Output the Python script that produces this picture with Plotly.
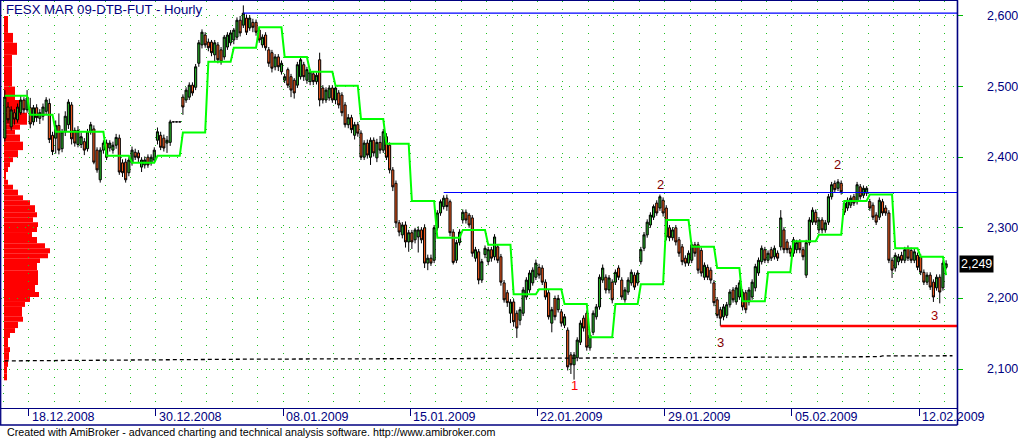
import plotly.graph_objects as go

# ---------------- data ----------------
open_prices = [
    2427,2471,2443,2463,2453,2463,2481,2467, 2470,2450,2470,2455,2458,2465,2476,2431,
    2427,2445,2412,2436,2446,2474,2438,2418, 2418,2422,2412,2436,2440,2410,2368,2410,
    2420,2413,2410,2417,2427,2392,2393,2378, 2392,2407,2406,2386,2389,2400,2392,2396,
    2424,2431,2427,2420,2421,2450,2450,2450, 2485,2481,2485,2502,2499,2533,2559,2573,
    2563,2563,2545,2559,2552,2542,2556,2562, 2566,2570,2594,2587,2597,2583,2591,2591,
    2580,2559,2573,2552,2548,2528,2542,2521, 2509,2524,2514,2509,2502,2514,2531,2509,
    2507,2518,2507,2538,2498,2481,2484,2498, 2481,2491,2488,2474,2446,2456,2431,2446,
    2434,2400,2420,2400,2424,2399,2421,2410, 2429,2417,2382,2363,2307,2290,2304,2280,
    2293,2283,2287,2297,2300,2250,2257,2254, 2300,2321,2330,2342,2337,2294,2254,2279,
    2311,2322,2318,2314,2257,2266,2226,2262, 2252,2269,2259,2273,2259,2222,2208,2179,
    2195,2179,2169,2179,2202,2212,2222,2230, 2244,2243,2223,2208,2165,2200,2184,2181,
    2162,2155,2120,2106,2116,2138,2172,2179, 2130,2152,2174,2188,2226,2230,2212,2223,
    2223,2243,2226,2198,2209,2222,2233,2222, 2252,2271,2290,2304,2315,2335,2328,2339,
    2328,2300,2286,2300,2283,2273,2257,2250, 2254,2276,2276,2268,2230,2244,2240,2222,
    2198,2184,2174,2176,2191,2212,2195,2202, 2209,2208,2195,2202,2215,2236,2252,2269,
    2254,2269,2259,2264,2273,2297,2280,2271, 2264,2269,2280,2269,2233,2279,2308,2322,
    2297,2311,2297,2308,2344,2363,2356,2363, 2335,2328,2332,2344,2337,2358,2346,2349,
    2337,2332,2318,2315,2337,2328,2321,2254, 2243,2252,2261,2254,2271,2268,2254,2261,
    2259,2237,2223,2233,2223,2215,2230,2215, 2244,
]
high_prices = [
    2495,2478,2472,2468,2476,2488,2485,2495, 2484,2474,2475,2468,2476,2485,2483,2436,
    2452,2462,2440,2465,2482,2478,2442,2444, 2435,2427,2440,2450,2445,2414,2414,2424,
    2425,2424,2422,2433,2432,2397,2398,2400, 2415,2412,2410,2400,2401,2404,2404,2414,
    2442,2436,2432,2430,2453,2450,2450,2450, 2489,2499,2506,2506,2532,2566,2581,2577,
    2568,2566,2566,2563,2556,2573,2577,2580, 2583,2598,2600,2615,2602,2601,2596,2595,
    2584,2574,2577,2556,2552,2546,2546,2537, 2518,2527,2518,2512,2535,2542,2535,2528,
    2525,2522,2520,2548,2502,2499,2502,2502, 2502,2495,2492,2478,2461,2460,2450,2450,
    2438,2424,2425,2428,2428,2426,2430,2440, 2434,2421,2386,2367,2311,2308,2309,2297,
    2297,2300,2302,2301,2305,2262,2262,2304, 2325,2340,2346,2347,2340,2298,2283,2298,
    2326,2326,2321,2318,2273,2270,2256,2275, 2273,2273,2291,2277,2263,2226,2212,2199,
    2199,2183,2188,2216,2230,2240,2244,2255, 2249,2247,2227,2212,2188,2204,2205,2185,
    2178,2159,2124,2124,2145,2169,2176,2183, 2152,2183,2192,2234,2248,2234,2233,2227,
    2241,2247,2230,2216,2230,2241,2237,2240, 2273,2294,2312,2322,2333,2339,2347,2343,
    2332,2304,2301,2304,2287,2277,2261,2268, 2280,2280,2280,2272,2251,2248,2244,2226,
    2202,2188,2192,2195,2213,2216,2219,2226, 2213,2212,2216,2227,2249,2258,2275,2273,
    2268,2273,2275,2268,2325,2301,2284,2275, 2287,2283,2284,2273,2283,2315,2329,2326,
    2315,2315,2311,2348,2365,2367,2369,2367, 2339,2343,2346,2348,2365,2362,2360,2359,
    2341,2336,2322,2343,2341,2332,2325,2258, 2265,2263,2266,2273,2275,2272,2270,2265,
    2263,2241,2237,2237,2227,2234,2234,2254, 2254,
]
low_prices = [
    2422,2448,2438,2446,2449,2460,2462,2463, 2441,2445,2450,2447,2452,2460,2420,2403,
    2405,2404,2407,2430,2440,2418,2415,2414, 2413,2403,2408,2432,2390,2378,2364,2405,
    2396,2408,2405,2412,2375,2372,2364,2373, 2388,2396,2393,2379,2384,2385,2388,2392,
    2418,2410,2408,2406,2416,2450,2450,2450, 2460,2477,2481,2487,2495,2528,2554,2555,
    2550,2543,2535,2533,2531,2538,2552,2558, 2560,2566,2571,2583,2573,2579,2577,2572,
    2562,2555,2551,2528,2520,2523,2522,2517, 2505,2498,2485,2483,2498,2510,2508,2504,
    2502,2502,2503,2472,2476,2477,2480,2477, 2475,2469,2458,2442,2441,2434,2425,2429,
    2396,2396,2398,2389,2401,2393,2405,2406, 2396,2377,2352,2300,2288,2285,2272,2266,
    2270,2278,2265,2278,2243,2240,2246,2250, 2296,2317,2326,2324,2288,2248,2250,2275,
    2306,2306,2300,2259,2252,2220,2222,2257, 2247,2252,2254,2250,2218,2194,2188,2165,
    2160,2144,2162,2175,2198,2208,2218,2226, 2228,2219,2198,2170,2152,2169,2180,2160,
    2158,2098,2093,2085,2111,2134,2153,2126, 2126,2148,2170,2184,2222,2207,2207,2193,
    2219,2226,2198,2194,2205,2218,2212,2218, 2248,2267,2286,2300,2311,2317,2324,2316,
    2282,2281,2282,2275,2259,2247,2245,2246, 2250,2259,2235,2231,2226,2226,2221,2189,
    2172,2161,2169,2172,2187,2194,2191,2198, 2183,2179,2190,2198,2210,2232,2248,2250,
    2250,2253,2255,2253,2268,2264,2264,2259, 2259,2264,2264,2254,2229,2275,2304,2304,
    2292,2292,2293,2304,2340,2350,2352,2347, 2318,2324,2328,2331,2333,2340,2342,2345,
    2324,2311,2304,2311,2317,2317,2250,2229, 2238,2247,2250,2250,2253,2250,2250,2240,
    2233,2219,2219,2212,2195,2211,2193,2211, 2241,
]
close_prices = [
    2485,2453,2467,2454,2471,2481,2467,2484, 2447,2470,2456,2463,2471,2481,2425,2408,
    2445,2410,2436,2458,2478,2426,2420,2438, 2429,2410,2436,2446,2393,2382,2410,2420,
    2400,2420,2417,2428,2379,2378,2368,2396, 2410,2400,2399,2396,2396,2389,2400,2410,
    2436,2414,2413,2424,2450,2450,2450,2450, 2471,2495,2502,2491,2528,2562,2577,2559,
    2555,2548,2562,2538,2535,2570,2573,2576, 2580,2594,2576,2604,2577,2597,2584,2577,
    2566,2570,2555,2533,2526,2542,2528,2533, 2514,2502,2495,2491,2531,2538,2514,2524,
    2521,2507,2516,2481,2481,2495,2498,2481, 2498,2474,2463,2446,2456,2439,2446,2434,
    2400,2420,2403,2424,2406,2421,2410,2436, 2400,2382,2358,2307,2294,2304,2280,2293,
    2280,2297,2297,2283,2250,2257,2250,2300, 2321,2337,2342,2330,2293,2251,2279,2294,
    2322,2311,2304,2264,2269,2226,2252,2271, 2269,2257,2287,2254,2223,2198,2194,2195,
    2167,2158,2184,2212,2226,2236,2240,2250, 2233,2223,2202,2174,2184,2174,2200,2165,
    2174,2103,2106,2120,2141,2165,2158,2131, 2148,2179,2188,2230,2243,2212,2229,2198,
    2237,2230,2202,2212,2226,2237,2216,2236, 2269,2290,2308,2318,2330,2321,2344,2321,
    2287,2286,2297,2280,2264,2252,2250,2264, 2276,2264,2240,2236,2247,2230,2226,2194,
    2176,2172,2188,2191,2209,2198,2215,2222, 2188,2184,2212,2223,2245,2254,2271,2254,
    2264,2257,2271,2257,2314,2269,2269,2264, 2283,2279,2269,2259,2279,2311,2325,2308,
    2311,2297,2307,2344,2361,2354,2365,2351, 2322,2339,2342,2335,2361,2344,2356,2356,
    2328,2315,2308,2339,2321,2321,2254,2240, 2261,2259,2254,2269,2257,2254,2266,2244,
    2237,2223,2233,2216,2202,2230,2209,2250, 2249,
]

# daily trailing level (green stair line), one value per trading day
green_daily = [2487, 2460, 2436, 2436, 2402, 2392, 2402, 2435, 2535, 2555,
               2584, 2542, 2521, 2501, 2454, 2419, 2338, 2286, 2297, 2276,
               2206, 2213, 2192, 2145, 2192, 2220, 2311, 2273, 2243, 2196,
               2237, 2281, 2290, 2338, 2347, 2271, 2259, 2233]
BARS_PER_DAY = 8

# dashed line (bar, price)
dashed_bar = [0, 78, 155, 237, 275, 276, 298]
dashed_price = [2111.5, 2114, 2115, 2117.3, 2117.5, 2118.6, 2118.8]

# horizontal level lines
level_price = [2604, 2350, 2161]
level_start_bar = [75, 138, 225]
level_color = ["#0000ff", "#0000ff", "#ff0000"]
level_width = [1.2, 1.2, 2.5]

# volume-at-price profile (price edges, descending) and relative volume
profile_edges = [2600, 2576, 2562, 2545, 2528, 2500, 2481, 2463, 2446, 2439, 2432, 2422,
                 2410, 2400, 2393, 2386, 2379, 2368, 2361, 2354, 2346, 2339, 2332, 2322,
                 2315, 2308, 2301, 2294, 2287, 2278, 2271, 2264, 2257, 2250, 2240, 2226,
                 2219, 2209, 2202, 2195, 2188, 2174, 2167, 2158, 2151, 2144, 2131, 2124,
                 2113, 2103, 2094, 2084]
profile_volume = [4, 9, 13, 8, 8, 11, 18, 23, 16, 11, 16, 19, 14, 9, 6, 4, 2, 4, 9, 14,
                  19, 26, 31, 33, 29, 34, 33, 28, 33, 41, 46, 44, 36, 33, 34, 34, 31, 35,
                  26, 21, 18, 19, 14, 11, 6, 4, 6, 5, 4, 3, 3]

# axis labels
y_tick_values = [2100, 2200, 2300, 2400, 2500, 2600]
y_tick_text = ["2,100", "2,200", "2,300", "2,400", "2,500", "2,600"]
date_label_day = [1, 6, 11, 16, 21, 26, 31, 36]
date_label_text = ["18.12.2008", "30.12.2008", "08.01.2009", "15.01.2009",
                   "22.01.2009", "29.01.2009", "05.02.2009", "12.02.2009"]

# pivot labels (bar, price, text, colour)
pivot_bar = [179, 206.3, 261.7, 225.2, 292.2]
pivot_price = [2077, 2362, 2389, 2137, 2176.5]
pivot_text = ["1", "2", "2", "3", "3"]
pivot_color = ["#ff0000", "#800000", "#800000", "#800000", "#a00000"]

last_price = 2249
last_price_text = "2,249"
title_text = "FESX MAR 09-DTB-FUT - Hourly"
footer_text = ("Created with AmiBroker - advanced charting and technical analysis software. "
               "http://www.amibroker.com")

# ---------------- figure ----------------
NAVY = "#000080"
GRID = "#22c022"
FONT = "Liberation Sans, Arial, sans-serif"
X_MIN, X_MAX = -1.204, 299.42
Y_MIN, Y_MAX = 2044.8, 2621.2

n = len(close_prices)
bars = list(range(n))

fig = go.Figure()

fig.add_trace(go.Scatter(
    x=bars, y=[green_daily[i // BARS_PER_DAY] for i in bars], mode="lines",
    line=dict(color="#00ff00", width=2), hoverinfo="skip"))

fig.add_trace(go.Scatter(
    x=dashed_bar, y=dashed_price, mode="lines",
    line=dict(color="black", width=1.3, dash="4px,3px"), hoverinfo="skip"))

fig.add_trace(go.Candlestick(
    x=bars, open=open_prices, high=high_prices, low=low_prices, close=close_prices,
    increasing=dict(fillcolor="#26b026", line=dict(color="black", width=1)),
    decreasing=dict(fillcolor="#f25a1e", line=dict(color="black", width=1)),
    whiskerwidth=0))

for p, s, c, w in zip(level_price, level_start_bar, level_color, level_width):
    fig.add_trace(go.Scatter(x=[s, X_MAX], y=[p, p], mode="lines",
                             line=dict(color=c, width=w), hoverinfo="skip"))

shapes = []
for hi, lo, v in zip(profile_edges[:-1], profile_edges[1:], profile_volume):
    shapes.append(dict(type="rect", xref="paper", xsizemode="pixel", xanchor=0,
                       x0=3, x1=3 + v, yref="y", y0=lo, y1=hi,
                       fillcolor="#ff0000", line=dict(width=0), layer="below"))

# frame below the date row
plot_w = 1018 - 1 - 61
plot_h = 438 - 1 - 30
y_bottom = -(425 - 408) / plot_h
shapes.append(dict(type="line", xref="paper", yref="paper", x0=-0.001, x1=1.0005,
                   y0=y_bottom, y1=y_bottom, line=dict(color=NAVY, width=1.3)))
shapes.append(dict(type="line", xref="paper", yref="paper", x0=1.0005, x1=1.0005,
                   y0=y_bottom, y1=1.002, line=dict(color=NAVY, width=1.6)))
shapes.append(dict(type="line", xref="paper", yref="paper", x0=-0.0003, x1=-0.0003,
                   y0=y_bottom, y1=1.002, line=dict(color=NAVY, width=1.3)))

annotations = []
annotations.append(dict(xref="paper", yref="paper", x=3 / plot_w, y=1 - 8 / plot_h,
                        xanchor="left", yanchor="middle", showarrow=False,
                        text=title_text, font=dict(family=FONT, size=13.2, color=NAVY)))
for v, t in zip(y_tick_values, y_tick_text):
    annotations.append(dict(xref="paper", yref="y", x=1, y=v, xanchor="left",
                            yanchor="middle", xshift=28, showarrow=False, text=t,
                            font=dict(family=FONT, size=12.5, color=NAVY)))
for d, t in zip(date_label_day, date_label_text):
    annotations.append(dict(xref="x", yref="paper", x=d * BARS_PER_DAY - 0.5,
                            y=-(417 - 408) / plot_h, xanchor="left", yanchor="middle",
                            xshift=1, showarrow=False, text=t,
                            font=dict(family=FONT, size=12.5, color=NAVY)))
annotations.append(dict(xref="paper", yref="paper", x=4 / plot_w, y=-(432 - 408) / plot_h,
                        xanchor="left", yanchor="middle", showarrow=False,
                        text=footer_text, font=dict(family=FONT, size=10.7, color="black")))
annotations.append(dict(xref="paper", yref="y", x=1, y=last_price, xanchor="left",
                        yanchor="middle", xshift=2, showarrow=False,
                        text=last_price_text, bgcolor="black", borderpad=1,
                        font=dict(family=FONT, size=12.5, color="white")))
for b, p, t, c in zip(pivot_bar, pivot_price, pivot_text, pivot_color):
    annotations.append(dict(xref="x", yref="y", x=b, y=p, showarrow=False, text=t,
                            font=dict(family=FONT, size=13, color=c)))

fig.update_layout(
    width=1018, height=438,
    margin=dict(l=1, r=61, t=1, b=30, pad=0),
    paper_bgcolor="white", plot_bgcolor="white",
    showlegend=False, boxgap=0.05,
    shapes=shapes, annotations=annotations,
    xaxis=dict(range=[X_MIN, X_MAX], rangeslider=dict(visible=False),
               tickmode="linear", tick0=BARS_PER_DAY - 0.5, dtick=5 * BARS_PER_DAY,
               showticklabels=False, ticks="outside", ticklen=7, tickcolor=NAVY,
               showgrid=True, gridcolor=GRID, griddash="1px,7px", gridwidth=1,
               minor=dict(tick0=-0.5, dtick=BARS_PER_DAY, showgrid=True,
                          gridcolor=GRID, griddash="1px,7px", gridwidth=1, ticks=""),
               showline=True, linecolor=NAVY, linewidth=1.3, mirror=True,
               zeroline=False, fixedrange=True),
    yaxis=dict(range=[Y_MIN, Y_MAX], side="right", tickmode="array",
               tickvals=y_tick_values, showticklabels=False,
               ticks="outside", ticklen=5, tickcolor="#00c000",
               showgrid=True, gridcolor=GRID, griddash="1px,7px", gridwidth=1,
               showline=True, linecolor=NAVY, linewidth=1.3, mirror=True,
               zeroline=False, fixedrange=True),
)

fig.write_html("out.html", config={"displayModeBar": False},
               post_script="document.body.style.margin='0px';")
